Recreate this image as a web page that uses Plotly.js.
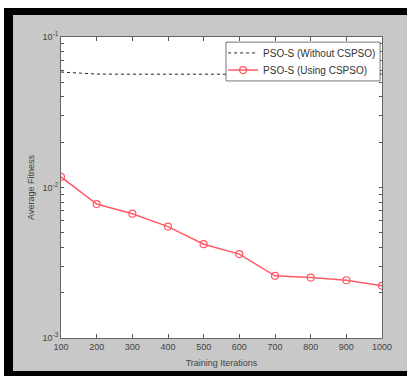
<!DOCTYPE html>
<html>
<head>
<meta charset="utf-8">
<script src="https://cdn.plot.ly/plotly-3.0.1.min.js"></script>
<style>
  html, body { margin: 0; padding: 0; background: #c8c8c8; overflow: hidden; width: 100%; height: 100%; }
  .bar { position: absolute; background: #000; }
  .white { position: absolute; background: #fff; }
  #chart { position: absolute; left: 13px; top: 15px; width: 394px; height: 356px; background: #c8c8c8; }
</style>
</head>
<body>
<div class="white" style="left:0; top:0; width:100%; height:8px;"></div>
<div class="white" style="left:0; top:0; width:4px; height:100%;"></div>
<div class="bar" style="left:4px; top:8px; width:100%; height:7px;"></div>
<div class="bar" style="left:4px; top:8px; width:9px; height:368px;"></div>
<div class="bar" style="left:4px; top:371px; width:100%; height:5px;"></div>
<div id="chart"></div>
<script>
// Data
const iterations = [100, 200, 300, 400, 500, 600, 700, 800, 900, 1000];
const cspsoFitness = [0.01175, 0.00776, 0.0067, 0.0055, 0.0042, 0.00361, 0.00259, 0.00252, 0.00242, 0.00222];

const baseIterations = [100, 125, 150, 175, 200, 300, 400, 500, 600, 700, 800, 900, 1000];
const baseFitness = [0.0585, 0.058, 0.0575, 0.057, 0.0567, 0.0566, 0.0566, 0.0566, 0.0566, 0.0566, 0.0566, 0.0566, 0.0566];

const seriesNames = ['PSO-S (Without CSPSO)', 'PSO-S (Using CSPSO)'];
const xTicks = [100, 200, 300, 400, 500, 600, 700, 800, 900, 1000];
const yDecades = [0.001, 0.01, 0.1];
const yDecadeLabels = ['10<sup>-3</sup>', '10<sup>-2</sup>', '10<sup>-1</sup>'];

const traces = [
  { x: baseIterations, y: baseFitness, name: seriesNames[0], mode: 'lines', legend: 'legend',
    line: { color: '#222222', width: 1, dash: 'dot' } },
  { x: iterations, y: cspsoFitness, name: seriesNames[1], mode: 'lines+markers', legend: 'legend2',
    line: { color: '#ff5a66', width: 1.5 },
    marker: { symbol: 'circle-open', size: 7, color: '#ff5a66', line: { width: 1.2 } } }
];

const legendCommon = { xanchor: 'left', yanchor: 'middle', bgcolor: 'rgba(0,0,0,0)', borderwidth: 0,
                       font: { size: 10, color: '#333' }, itemwidth: 30 };

const layout = {
  width: 394, height: 356,
  margin: { l: 48, r: 25, t: 22, b: 33 },
  paper_bgcolor: '#c8c8c8', plot_bgcolor: '#ffffff',
  font: { family: 'Liberation Sans, Arial, sans-serif', size: 9, color: '#444' },
  showlegend: true,
  legend: Object.assign({ x: 0.505, y: 0.947 }, legendCommon),
  legend2: Object.assign({ x: 0.505, y: 0.890 }, legendCommon),
  shapes: [
    { type: 'rect', xref: 'paper', yref: 'paper', x0: 0.514, x1: 0.994, y0: 0.854, y1: 0.983,
      fillcolor: '#ffffff', line: { color: '#777', width: 1 }, layer: 'above' }
  ],
  xaxis: { range: [100, 1000], tickvals: xTicks, ticks: 'inside', ticklen: 4,
           tickcolor: '#555', showline: true, linecolor: '#666', linewidth: 1,
           mirror: 'allticks', showgrid: false, zeroline: false,
           tickfont: { size: 9, color: '#444' },
           title: { text: 'Training Iterations', font: { size: 9, color: '#444' }, standoff: 8 } },
  yaxis: { type: 'log', range: [-3, -1], tickvals: yDecades, ticktext: yDecadeLabels,
           ticks: 'inside', ticklen: 3, tickcolor: '#555', showline: true, linecolor: '#666',
           linewidth: 1, mirror: 'allticks', showgrid: false, zeroline: false,
           minor: { ticks: 'inside', ticklen: 3, tickcolor: '#555', dtick: 'D1', showgrid: false },
           tickfont: { size: 9, color: '#444' },
           title: { text: 'Average Fitness', font: { size: 9, color: '#444' }, standoff: 6 } }
};

Plotly.newPlot('chart', traces, layout, { displayModeBar: false, staticPlot: true });
</script>
</body>
</html>
